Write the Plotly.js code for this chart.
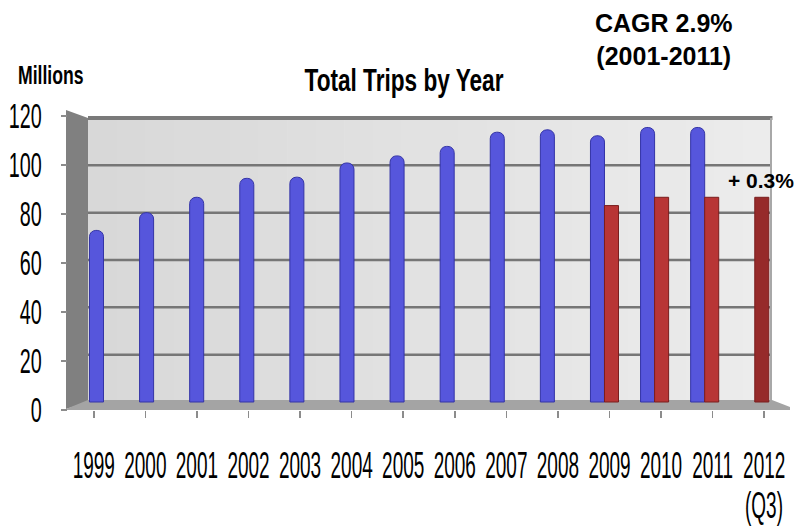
<!DOCTYPE html>
<html>
<head>
<meta charset="utf-8">
<script src="https://cdn.plot.ly/plotly-3.0.1.min.js"></script>
<style>
  html, body { margin: 0; padding: 0; background: #ffffff; }
  #chart { width: 802px; height: 532px; }
</style>
</head>
<body>
<div id="chart"></div>
<script>
// ---- data ----
const years = ['1999','2000','2001','2002','2003','2004','2005','2006','2007','2008','2009','2010','2011','2012'];
const annualTrips = [72.5, 80, 86.5, 94.5, 95, 101, 104, 108, 114, 115, 112.5, 116, 116, null];
const q3Years = ['2009','2010','2011','2012'];
const q3Trips = [83, 86.5, 86.5, 86.5];
const yTicks = [0, 20, 40, 60, 80, 100, 120];
const lastYearNote = '(Q3)';

const sans = '"Liberation Sans", Arial, sans-serif';

// plot area in pixels (for decoration shapes only)
const L = 68, R = 790, T = 116, B = 410;
const px = v => (v - L) / (R - L);
const py = v => (B - v) / (B - T);

const wallL = 88, wallR = 771;
const wallX0 = px(wallL), wallX1 = px(wallR);

const shapes = [];
// back wall with a soft left-to-right gradient
const nBands = 24;
for (let i = 0; i < nBands; i++) {
  const t = i / (nBands - 1);
  const g = Math.round(216 + (236 - 216) * t);
  shapes.push({type:'rect', layer:'below', xref:'paper', yref:'y2',
    x0: px(wallL + (wallR - wallL) * i / nBands), x1: px(wallL + (wallR - wallL) * (i + 1) / nBands) + 0.001,
    y0: 0, y1: 120, fillcolor: `rgb(${g},${g},${g})`, line: {width: 0}});
}
// left side wall
shapes.push({type:'path', layer:'below', xref:'paper', yref:'paper',
  path:`M ${px(66)} ${py(110)} L ${px(88)} ${py(118)} L ${px(88)} ${py(402)} L ${px(66)} ${py(409)} Z`,
  fillcolor:'#808080', line:{width:0}});
// grid lines on the back wall
yTicks.slice(1, -1).forEach(v => {
  shapes.push({type:'line', layer:'below', xref:'paper', yref:'y2', x0:wallX0, x1:wallX1, y0:v, y1:v,
    line:{color:'#767676', width:2.5}});
});
// top edge of wall
shapes.push({type:'line', layer:'below', xref:'paper', yref:'y2', x0:wallX0, x1:wallX1 + 0.002, y0:120, y1:120,
  line:{color:'#7a7a7a', width:4}});
// right edge
shapes.push({type:'line', layer:'below', xref:'paper', yref:'y2', x0:wallX1, x1:wallX1, y0:0, y1:120,
  line:{color:'#a8a8a8', width:2}});
// floor
shapes.push({type:'path', layer:'below', xref:'paper', yref:'paper',
  path:`M ${px(66)} ${py(409)} L ${px(88)} ${py(400)} L ${px(772)} ${py(400)} L ${px(790)} ${py(407)} L ${px(790)} ${py(410)} L ${px(66)} ${py(410)} Z`,
  fillcolor:'#a4a4a4', line:{width:0}});

const traces = [
  // empty helper so the labelled front axes (x, y) are drawn
  {type:'scatter', mode:'markers', x: years, y: years.map(() => null), xaxis:'x', yaxis:'y',
   hoverinfo:'skip', showlegend:false},
  {type:'bar', name:'Annual', x:years, y:annualTrips, xaxis:'x2', yaxis:'y2',
   marker:{color:'#5656dc', line:{color:'#3434a6', width:1}, cornerradius:'45%'},
   hoverinfo:'x+y'},
  {type:'bar', name:'Q3', x:q3Years, y:q3Trips, xaxis:'x2', yaxis:'y2',
   marker:{color:q3Years.map(y => y === '2012' ? '#962a2a' : '#b83535'), line:{color:'#7a1e1e', width:1}},
   hoverinfo:'x+y'}
];

const layout = {
  width: 802, height: 532,
  margin: {l: L, r: 802 - R, t: T, b: 532 - B, pad: 0},
  paper_bgcolor: '#ffffff', plot_bgcolor: 'rgba(0,0,0,0)',
  showlegend: false,
  barmode: 'group', bargap: 0.44, bargroupgap: 0,
  title: {text: '<b>Total Trips by Year</b>', x: 404/802, xanchor: 'center', y: 1 - 80/532, yanchor: 'middle',
    font: {family: sans, size: 26, color: '#000000'}},
  xaxis: {type: 'category', categoryarray: years, categoryorder: 'array', range: [-0.5, 13.5],
    tickvals: years, ticktext: years, tickangle: 0, ticks: 'outside', ticklen: 7, tickcolor: '#8c8c8c', tickwidth: 1.5,
    ticklabelstandoff: 25, showgrid: false, showline: false, zeroline: false, fixedrange: true,
    tickfont: {family: sans, size: 26, color: '#000000'}},
  yaxis: {range: [0, 120], tickvals: yTicks, ticks: 'outside', ticklen: 6, tickcolor: '#8c8c8c', tickwidth: 1.5,
    ticklabelstandoff: 14, showgrid: false, showline: false, zeroline: false, fixedrange: true,
    tickfont: {family: sans, size: 26, color: '#000000'}},
  xaxis2: {type: 'category', categoryarray: years, categoryorder: 'array', overlaying: 'x',
    range: [-0.7086, 13.703], visible: false, fixedrange: true},
  yaxis2: {overlaying: 'y', range: [-3.38, 120.85], visible: false, fixedrange: true},
  shapes: shapes,
  annotations: [
    {text: '<b>Millions</b>', xref: 'paper', yref: 'paper', x: px(16), y: py(75), xanchor: 'left', yanchor: 'middle',
     showarrow: false, font: {family: sans, size: 20, color: '#000000'}},
    {text: '<b>CAGR 2.9%<br>(2001-2011)</b>', xref: 'paper', yref: 'paper', x: px(664), y: py(40), xanchor: 'center', yanchor: 'middle',
     showarrow: false, align: 'center', font: {family: sans, size: 25, color: '#000000'}},
    {text: '<b>+ 0.3%</b>', xref: 'paper', yref: 'paper', x: px(761), y: py(180), xanchor: 'center', yanchor: 'middle',
     showarrow: false, font: {family: sans, size: 21, color: '#000000'}},
    {text: lastYearNote, xref: 'x', yref: 'paper', x: years.length - 1, y: py(505), xanchor: 'center', yanchor: 'middle',
     showarrow: false, font: {family: sans, size: 26, color: '#000000'}}
  ]
};

// squeeze/stretch text glyphs to imitate the tall condensed face of the original
function stretch(el, sx, sy, anchor) {
  if (!el) return;
  const b = el.getBBox();
  const ax = anchor === 'right' ? b.x + b.width : anchor === 'left' ? b.x : b.x + b.width / 2;
  const ay = b.y + b.height / 2;
  const prev = el.getAttribute('transform') || '';
  el.setAttribute('transform', `${prev} translate(${ax},${ay}) scale(${sx},${sy}) translate(${-ax},${-ay})`);
}

Plotly.newPlot('chart', traces, layout, {displayModeBar: false, staticPlot: true}).then(gd => {
  gd.querySelectorAll('.xtick text').forEach(t => stretch(t, 0.73, 1.4, 'center'));
  gd.querySelectorAll('.ytick text').forEach(t => stretch(t, 0.76, 1.35, 'right'));
  stretch(gd.querySelector('.gtitle'), 0.87, 1.2, 'center');
  const ann = gd.querySelectorAll('.annotation-text');
  stretch(ann[0], 0.88, 1.25, 'left');
  stretch(ann[3], 0.73, 1.4, 'center');
});
</script>
</body>
</html>
